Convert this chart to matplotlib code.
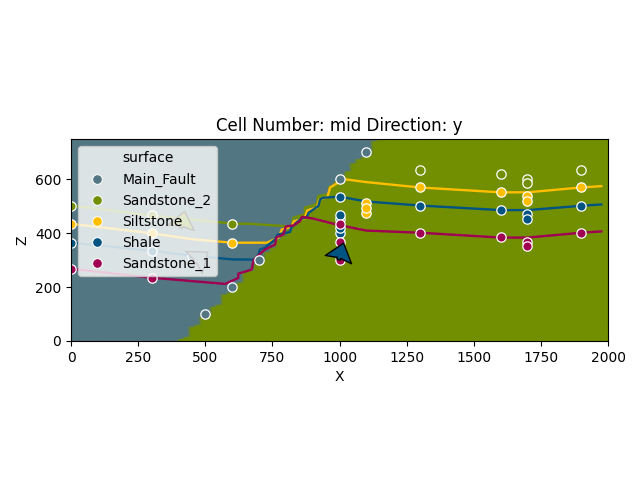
import numpy as np
import matplotlib
matplotlib.use('Agg')
import matplotlib.pyplot as plt
from matplotlib.colors import ListedColormap
from matplotlib.lines import Line2D

# surfaces and their colours
surfaces = ['Main_Fault', 'Sandstone_2', 'Siltstone', 'Shale', 'Sandstone_1']
colors = ['#527682', '#728f02', '#ffbe00', '#015482', '#9f0052']

# top of the olive block per column, 100 columns of 20 m
block_top = [0] * 20 + [8, 15, 53, 60, 90, 98, 128, 135, 172, 180,
                        210, 218, 255, 262, 285, 300, 330, 345, 375, 390,
                        413, 428, 465, 472, 495, 510, 540, 548, 578, 593,
                        615, 630, 660, 675, 683, 690, 743, 750] + [750] * 42

# input points
fault_x = [500, 600, 700, 1000, 1100]
fault_z = [100, 200, 300, 602, 703]
sand2_x = [0, 300, 600, 1300, 1600, 1700, 1700, 1900]
sand2_z = [503, 466, 436, 635, 620, 603, 587, 635]
silt_x = [0, 300, 600, 1100, 1100, 1100, 1300, 1600, 1700, 1700, 1900]
silt_z = [435, 400, 365, 511, 476, 493, 570, 552, 538, 520, 570]
shale_x = [0, 300, 450, 1000, 1000, 1000, 1000, 1000, 1300, 1600, 1700, 1700, 1900]
shale_z = [365, 335, 317, 536, 402, 419, 452, 469, 502, 486, 470, 454, 502]
sand1_x = [0, 300, 1000, 1000, 1000, 1300, 1600, 1700, 1700, 1900]
sand1_z = [268, 235, 302, 368, 435, 402, 387, 369, 353, 402]

# contact lines, left block then the stairs up the fault then right block
sand2_line_x = [0, 300, 600, 667, 822, 828, 871, 871, 915, 921, 964, 970, 1000]
sand2_line_z = [503, 466, 436, 435, 425, 458, 470, 495, 507, 538, 545, 563, 600]
silt_line_x = [0, 300, 450, 600, 729, 772, 785, 822, 830, 870, 880, 915, 925, 955, 965, 990,
               1000, 1100, 1300, 1600, 1700, 1900, 1975]
silt_line_z = [435, 400, 378, 365, 365, 383, 414, 424, 445, 455, 485, 495, 525, 535, 570, 585,
               603, 590, 570, 552, 552, 570, 575]
shale_line_x = [0, 300, 450, 600, 692, 704, 720, 760, 770, 816, 820, 853, 878, 885, 921, 928, 940,
                1000, 1100, 1300, 1600, 1700, 1900, 1975]
shale_line_z = [365, 335, 317, 303, 302, 340, 345, 377, 395, 405, 420, 452, 460, 476, 501, 526, 532,
                536, 518, 503, 486, 486, 502, 507]
sand1_line_x = [0, 300, 574, 623, 623, 673, 680, 700, 723, 760, 765, 791, 800, 828, 853, 860,
                900, 1000, 1100, 1300, 1600, 1700, 1900, 1975]
sand1_line_z = [268, 235, 212, 234, 250, 265, 300, 320, 340, 358, 385, 395, 425, 429, 445, 461,
                455, 430, 410, 402, 384, 384, 402, 407]

# orientations
ori_x = [410, 458, 996]
ori_z = [420, 291, 302]
ori_u = [0.2, 0.8, 0.3]
ori_v = [0.95, 0.6, 0.95]
ori_colors = ['#728f02', '#527682', '#015482']

fig = plt.figure(figsize=(6.4, 4.8), dpi=100)
ax = fig.add_axes([71 / 640, 139 / 480, 537 / 640, 202 / 480])

block = np.array([[1 if (r + 0.5) * 7.5 < top else 0 for top in block_top] for r in range(100)])
ax.imshow(block, origin='lower', extent=[0, 2000, 0, 750], aspect='auto',
          cmap=ListedColormap([colors[0], colors[1]]), zorder=0)

ax.plot(sand2_line_x, sand2_line_z, color=colors[1], lw=1.7, zorder=1)
ax.plot(silt_line_x, silt_line_z, color=colors[2], lw=1.7, zorder=1)
ax.plot(shale_line_x, shale_line_z, color=colors[3], lw=1.7, zorder=1)
ax.plot(sand1_line_x, sand1_line_z, color=colors[4], lw=1.7, zorder=1)

pts = [(fault_x, fault_z), (sand2_x, sand2_z), (silt_x, silt_z), (shale_x, shale_z), (sand1_x, sand1_z)]
for (px, pz), c in zip(pts, colors):
    ax.scatter(px, pz, s=45, c=c, edgecolors='white', linewidths=0.9, zorder=2)

ax.quiver(ori_x, ori_z, ori_u, ori_v, color=ori_colors, pivot='tail', scale=31, headwidth=8,
          width=0.0064, edgecolor='k', linewidth=1, zorder=3)

handles = [Line2D([], [], ls='none', label='surface')]
for name, c in zip(surfaces, colors):
    handles.append(Line2D([], [], ls='none', marker='o', ms=7, mfc=c, mec='white', mew=0.75, label=name))
ax.legend(handles=handles, loc='upper left')

ax.set_xlim(0, 2000)
ax.set_ylim(0, 750)
ax.set_title('Cell Number: mid Direction: y')
ax.set_xlabel('X')
ax.set_ylabel('Z')

fig.savefig('out.png', dpi=100)
